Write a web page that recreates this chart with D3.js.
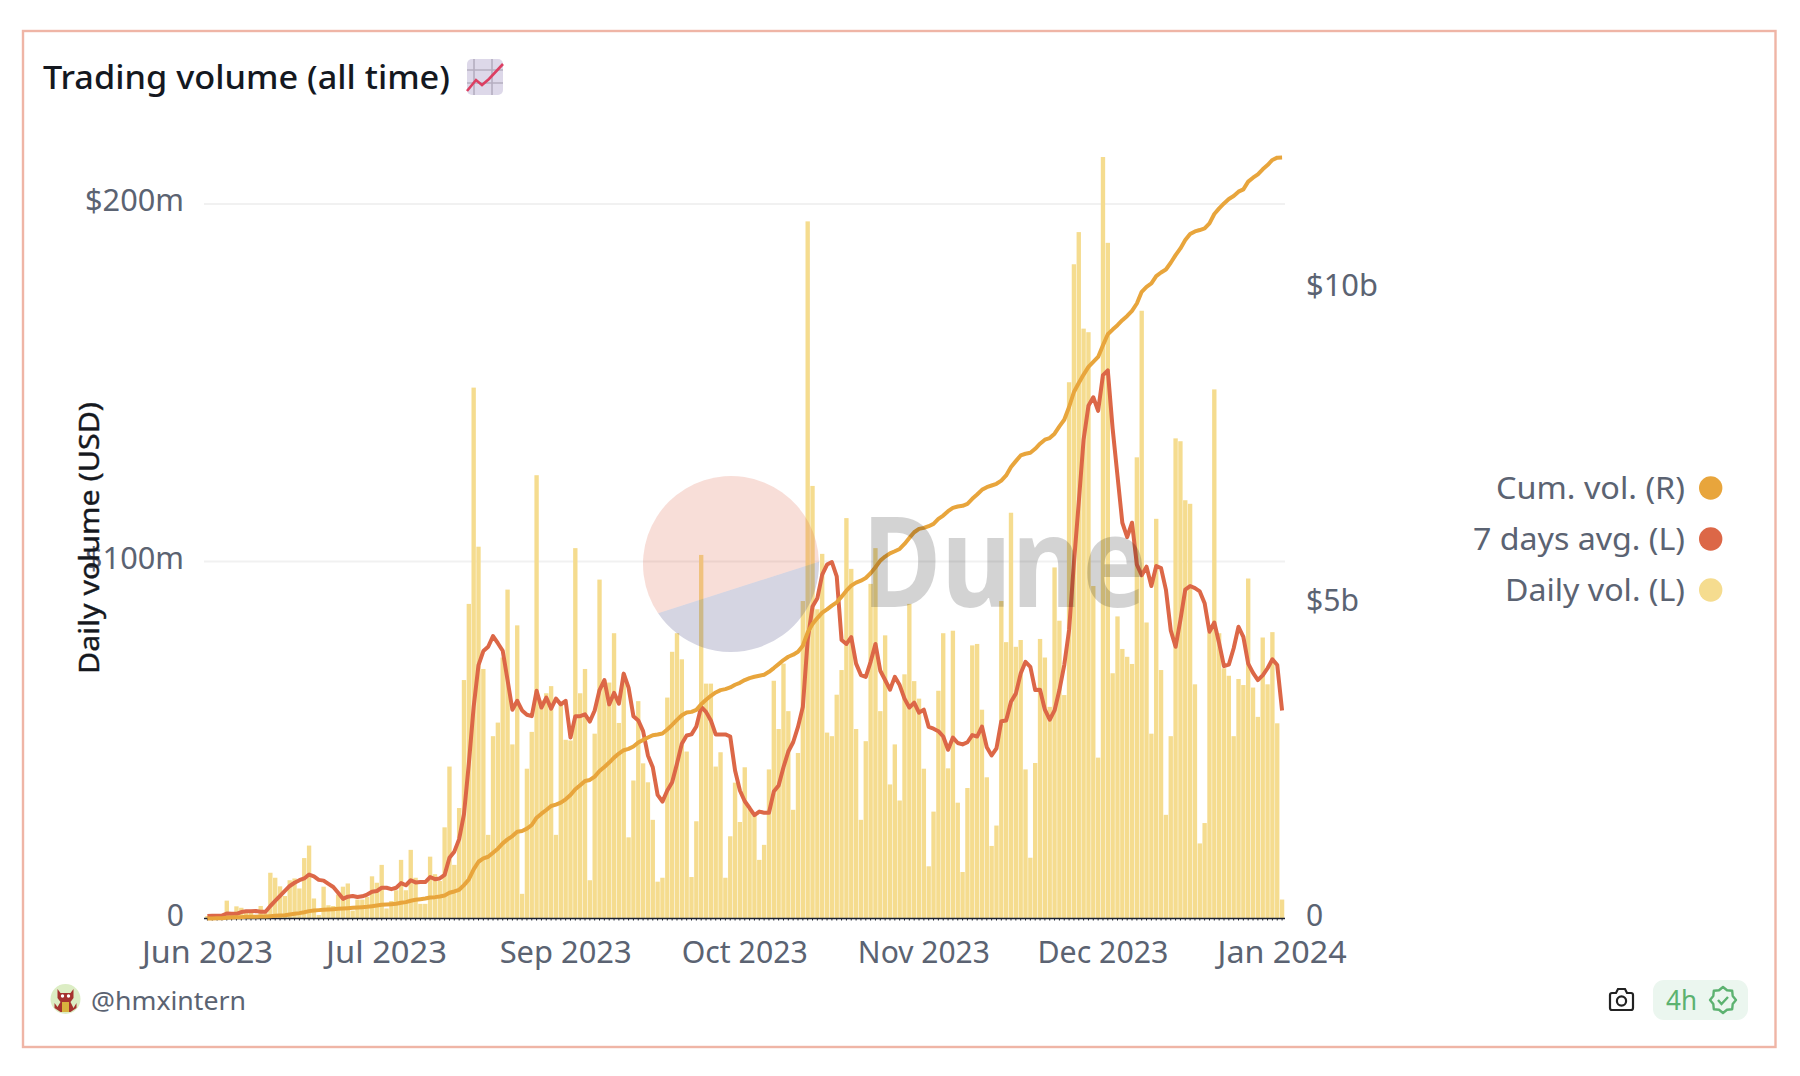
<!DOCTYPE html>
<html>
<head>
<meta charset="utf-8">
<script src="https://cdn.jsdelivr.net/npm/d3@7"></script>
<style>
html,body{margin:0;padding:0;background:#fff;}
svg{display:block;}
text{font-family:"Noto Sans",sans-serif;}
</style>
</head>
<body>
<svg id="chart" width="1800" height="1076"></svg>
<script>
const title = "Trading volume (all time)";
const yAxisTitle = "Daily volume (USD)";
const leftTicks = [0, 100, 200];
const rightTicks = [0, 5, 10];
const tickIndex = [0, 37, 74, 111, 148, 185, 222];
const tickLabels = ["Jun 2023", "Jul 2023", "Sep 2023", "Oct 2023", "Nov 2023", "Dec 2023", "Jan 2024"];
const legendNames = ["Cum. vol. (R)", "7 days avg. (L)", "Daily vol. (L)"];

// Daily volume, $m
const dailyVol = [
0.7,0.7,0.7,0.7,5,1.6,3.4,3,1.6,1.6,
1,3.5,1.6,12.8,11.4,9,6.3,10.7,11.2,8.4,
16.9,20.4,5.6,1,8.9,3.7,3.5,6.7,8.9,9.8,
2.2,5.3,5.3,6,11.8,10,15,2.8,4.9,7.9,
16.4,7.9,19.2,11.4,4.1,4.1,17.3,12.4,10.5,25.5,
42.5,15,30.9,66.7,88,148.5,104,69.8,23.4,51,
54.8,73,92,48.7,82,6.9,41.9,52.2,124,61,
63,65,23.4,60,50,49.8,103.6,63,69.8,10.7,
51.7,94.8,66.7,66,79.8,54.7,68.5,22.7,38.6,60.8,
43.4,38.1,27.6,10.3,11.4,61.8,74.6,79.8,72.5,46.7,
11.6,27.2,101.7,65.7,65.7,42.5,46.5,11.4,23,38,
27,42.3,30.6,28.7,16.4,20.6,41.7,66.5,53,71.3,
58,30.4,46.3,88.8,195,121,86.5,102,52,51,
62.6,69.5,112,97.8,53,27.6,49.6,93.6,103.6,58,
79.2,37.5,48.7,33,68.3,88,66.4,61.5,41.9,14.6,
29.9,63.7,79.8,42,80.5,32.4,13,36.5,76.4,76.8,
58.4,39.5,20.3,26,88.8,77.3,113.5,76,77.9,41.7,
17,43.5,78.2,73,59.2,98.2,83.3,62.5,150,183,
192,165,164,93,45,213,189,68.6,84.5,75.4,
73.2,71.2,129,170,82.8,51.7,111.8,69.5,29,51,
134.3,133.5,117,116,65.5,21,26.7,80,148,79.8,
70,67.9,51,67,65.3,95.1,64.6,56.4,78.6,65.5,
80.1,54.6,5.3];

// 7 days average, $m
const avg7 = [
0.7,0.8,0.8,0.8,1.4,1.3,1.3,1.8,2,2,
2.1,1.9,1.9,3.5,4.9,6.3,7.7,9.1,10,10.7,
11.2,12.3,11.8,10.8,10.6,9.7,8.8,7.2,5.5,6.1,
6.3,6,6.2,6.7,7.5,7.7,8.6,8.6,8.2,8.6,
9.9,9.3,10.7,10.1,10.2,10.2,11.6,11,11.2,12.2,
17,18.7,22.2,29.2,43.3,59.2,70.9,74.8,76,79,
77,74.9,66.7,58.4,60.9,58.2,57,56.6,63.7,59,
61.8,58.7,61.5,59.9,60.9,50.6,56.6,56.6,57.1,55.1,
58.2,63.9,66.7,59.9,63.1,60.1,68.5,64.6,56.6,55.4,
52.4,45.6,42.3,34.6,32.7,35.8,38.1,43.3,48.9,51.2,
51.5,53.7,59.2,57.8,55.4,51.5,51.5,51.5,50.9,41.4,
35.8,32.8,30.9,28.9,29.9,29.6,29.6,35.5,37.2,42.3,
46.7,49.3,53.6,59.2,77.9,87.3,89.6,96.2,99,99.7,
95.7,77.9,76.8,78.7,71.3,68.1,67.6,71.8,76.8,69.3,
66.7,64,67.6,65.3,61.5,59,60.4,57.6,58.4,53.6,
53.1,52.4,50.9,47.2,50.6,49.1,48.7,49.3,51.3,50.9,
53.7,47.9,45.6,47.6,55.2,55.4,60.6,62.9,68.5,71.8,
70.4,63.9,64,58.4,55.6,58.2,63.9,70.9,80.7,99.5,
116.4,134,143.4,145.8,142,152,153.3,137,123.8,110.7,
106.7,110.7,99,96,98.4,93,98.6,98,92,80.6,
76,83.5,92,93,92.4,91.5,88.2,80.2,82.8,77,
70.6,71,75.6,81.6,78.8,71.3,68.7,66.7,68,70,
72.5,70.9,58.2];

// Cumulative volume, $b
const cumVol = [
0,0,.005,.005,.01,.016,.02,.02,.026,.026,
.026,.03,.03,.037,.042,.048,.053,.064,.074,.085,
.1,.117,.127,.133,.138,.143,.148,.154,.159,.164,
.17,.175,.18,.186,.196,.207,.217,.223,.228,.233,
.249,.26,.281,.297,.307,.318,.334,.339,.35,.366,
.408,.429,.456,.53,.62,.779,.901,.954,.98,1.044,
1.108,1.192,1.256,1.309,1.378,1.388,1.426,1.484,1.6,1.664,
1.722,1.786,1.807,1.839,1.892,1.961,2.051,2.114,2.183,2.199,
2.252,2.342,2.406,2.475,2.554,2.618,2.671,2.692,2.729,2.793,
2.835,2.872,2.909,2.92,2.936,3,3.074,3.153,3.227,3.27,
3.28,3.312,3.402,3.471,3.535,3.588,3.625,3.641,3.667,3.71,
3.741,3.784,3.816,3.837,3.853,3.869,3.916,3.975,4.038,4.102,
4.155,4.187,4.234,4.33,4.542,4.674,4.769,4.854,4.907,4.966,
5.019,5.109,5.204,5.283,5.331,5.363,5.405,5.48,5.575,5.681,
5.745,5.797,5.829,5.866,5.946,6.041,6.131,6.184,6.2,6.227,
6.264,6.343,6.396,6.465,6.518,6.539,6.55,6.582,6.661,6.73,
6.804,6.847,6.873,6.9,6.95,7.032,7.165,7.26,7.35,7.377,
7.393,7.456,7.536,7.6,7.626,7.695,7.811,7.917,8.119,8.357,
8.5,8.633,8.755,8.834,8.914,9.099,9.274,9.348,9.417,9.497,
9.565,9.645,9.762,9.947,10.026,10.08,10.196,10.254,10.302,10.408,
10.53,10.636,10.768,10.864,10.906,10.928,10.954,11.033,11.182,11.272,
11.351,11.42,11.468,11.537,11.574,11.696,11.759,11.812,11.892,11.96,
12.04,12.077,12.08];

const COL = {cum:"#e8a53c", avg:"#dc6747", bar:"#f5dc8f", text:"#5b6372", grid:"#f1f1f1", axis:"#1c2230", frame:"#efb5a6"};
const index = d3.range(dailyVol.length);
const svg = d3.select("#chart");

const x = d3.scaleBand().domain(index).range([205, 1284.5]).paddingInner(0.1).paddingOuter(0.05);
const yL = d3.scaleLinear().domain([0, 200]).range([918.5, 203.5]);
const yR = d3.scaleLinear().domain([0, 10]).range([918.5, 288.5]);
const cx = i => x(i) + x.bandwidth() / 2;

// frame
svg.append("rect").attr("x",23).attr("y",31).attr("width",1752.5).attr("height",1016)
   .attr("fill","#fff").attr("stroke",COL.frame).attr("stroke-width",2.4);

// title
svg.append("text").text(title).attr("x",43).attr("y",89).attr("font-size",33).attr("font-weight",500)
   .attr("fill","#14181f").attr("textLength",407).attr("lengthAdjust","spacingAndGlyphs");

// chart emoji
const em = svg.append("g").attr("transform","translate(467,59)");
em.append("rect").attr("width",36).attr("height",36).attr("rx",5).attr("fill","#ddd8e9");
em.append("path").attr("d","M0 11H36M0 24H36M7 0V36M25 0V36").attr("stroke","#b5aec0").attr("stroke-width",1.6).attr("fill","none");
em.append("path").attr("d","M0 32L9 21L15 26L22 20L36 5").attr("stroke","#dc3f62").attr("stroke-width",2.6).attr("fill","none");

// gridlines
svg.append("g").attr("transform","translate(204,0)")
   .call(d3.axisLeft(yL).tickValues([100,200]).tickSize(-1081).tickFormat(""))
   .call(g=>g.select(".domain").remove())
   .call(g=>g.selectAll("text").remove())
   .call(g=>g.selectAll("line").attr("stroke",COL.grid).attr("stroke-width",2));

// bars
svg.append("g").selectAll("rect").data(index).join("rect")
   .attr("x",i=>x(i)).attr("width",x.bandwidth())
   .attr("y",i=>yL(dailyVol[i])).attr("height",i=>yL(0)-yL(dailyVol[i]))
   .attr("fill",COL.bar);

// bottom axis
const tickLen = [131,121,132,126,132,131,129];
const xAxis = d3.axisBottom(x).tickValues(index).tickSize(2).tickPadding(0)
   .tickFormat(i=>{const k=tickIndex.indexOf(i);return k<0?"":tickLabels[k];});
const gx = svg.append("g").attr("transform",`translate(0,${yL(0)})`).call(xAxis);
gx.select(".domain").remove();
gx.selectAll("line").attr("stroke",COL.axis).attr("stroke-width",1);
gx.selectAll("text").filter(i=>!tickIndex.includes(i)).remove();
gx.selectAll("text").attr("font-family",'"Noto Sans",sans-serif').attr("font-size",30).attr("fill",COL.text)
   .attr("dy",null).attr("y",44).attr("text-anchor","middle")
   .attr("textLength",i=>tickLen[tickIndex.indexOf(i)]).attr("lengthAdjust","spacingAndGlyphs");
svg.append("line").attr("x1",204).attr("x2",1285).attr("y1",yL(0)).attr("y2",yL(0)).attr("stroke",COL.axis).attr("stroke-width",1.6);

// left axis labels
const gl = svg.append("g").attr("transform","translate(184,0)")
   .call(d3.axisLeft(yL).tickValues(leftTicks).tickSize(0).tickPadding(0).tickFormat(v=>v===0?"0":`$${v}m`));
gl.select(".domain").remove();
gl.selectAll("text").attr("font-family",'"Noto Sans",sans-serif').attr("font-size",30).attr("fill",COL.text).attr("dy",7)
   .attr("textLength",v=>v===0?null:99).attr("lengthAdjust","spacingAndGlyphs");

// right axis labels
const gr = svg.append("g").attr("transform","translate(1306,0)")
   .call(d3.axisRight(yR).tickValues(rightTicks).tickSize(0).tickPadding(0).tickFormat(v=>v===0?"0":`$${v}b`));
gr.select(".domain").remove();
gr.selectAll("text").attr("font-family",'"Noto Sans",sans-serif').attr("font-size",30).attr("fill",COL.text).attr("dy",7)
   .attr("textLength",v=>v===0?null:(v===10?72:53)).attr("lengthAdjust","spacingAndGlyphs");

// y axis title
svg.append("text").text(yAxisTitle).attr("transform","translate(99,538) rotate(-90)")
   .attr("text-anchor","middle").attr("font-family","DejaVu Sans").attr("font-size",28).attr("fill","#15181e")
   .attr("stroke","#15181e").attr("stroke-width",0.4)
   .attr("textLength",272).attr("lengthAdjust","spacingAndGlyphs");

// lines
const lineAvg = d3.line().x(i=>cx(i)).y(i=>yL(avg7[i]));
const lineCum = d3.line().x(i=>cx(i)).y(i=>yR(cumVol[i]));
svg.append("path").attr("d",lineAvg(index)).attr("fill","none").attr("stroke",COL.avg).attr("stroke-width",4).attr("stroke-linejoin","round");
svg.append("path").attr("d",lineCum(index)).attr("fill","none").attr("stroke",COL.cum).attr("stroke-width",4).attr("stroke-linejoin","round");

// Dune watermark
const wm = svg.append("g");
const wmx=731, wmy=564, wmr=88;
const ang1=Math.atan2(612.7-wmy,659-wmx), ang2=Math.atan2(561.7-wmy,819-wmx);
const pt=a=>[wmx+wmr*Math.cos(a),wmy+wmr*Math.sin(a)];
const [ax,ay]=pt(ang1),[bx,by]=pt(ang2);
wm.append("path").attr("d",`M${ax} ${ay}A${wmr} ${wmr} 0 1 1 ${bx} ${by}Z`).attr("fill","#de5a3c").attr("opacity",0.2);
wm.append("path").attr("d",`M${ax} ${ay}A${wmr} ${wmr} 0 0 0 ${bx} ${by}Z`).attr("fill","#2c2c70").attr("opacity",0.2);
wm.append("text").text("Dune").attr("x",862).attr("y",607).attr("font-family","Roboto").attr("font-weight",700)
  .attr("font-size",125).attr("fill","#000").attr("opacity",0.17).attr("textLength",285).attr("lengthAdjust","spacingAndGlyphs");

// legend
const legendColors=[COL.cum,COL.avg,COL.bar];
const legendLen=[189,212,180];
const legendY=[488,539,590];
legendNames.forEach((n,k)=>{
  svg.append("circle").attr("cx",1710.7).attr("cy",legendY[k]).attr("r",11.7).attr("fill",legendColors[k]);
  svg.append("text").text(n).attr("x",1685).attr("y",legendY[k]+11).attr("text-anchor","end")
     .attr("font-size",30).attr("fill",COL.text).attr("textLength",legendLen[k]).attr("lengthAdjust","spacingAndGlyphs");
});

// author
const av=svg.append("g").attr("transform","translate(65.5,999)");
av.append("circle").attr("r",15).attr("fill","#dcedc4");
av.append("path").attr("d","M-8 -10L-5 -6H5L8 -10L8 -1L5 3L8 9L11 4L11 9L5 13H-5L-11 9L-11 4L-8 8L-5 3L-8 -1Z").attr("fill","#a5322e");
av.append("rect").attr("x",-3.5).attr("y",3).attr("width",7).attr("height",10).attr("fill","#d8b23e");
av.append("circle").attr("cx",-3).attr("cy",-3).attr("r",1.7).attr("fill","#fff");
av.append("circle").attr("cx",3).attr("cy",-3).attr("r",1.7).attr("fill","#fff");
svg.append("text").text("@hmxintern").attr("x",91).attr("y",1010).attr("font-size",26).attr("fill",COL.text)
   .attr("textLength",155).attr("lengthAdjust","spacingAndGlyphs");

// camera icon
const cam=svg.append("g").attr("transform","translate(1609,988)").attr("fill","none").attr("stroke","#222").attr("stroke-width",2.2);
cam.append("path").attr("d","M3 5H7L9 1H16L18 5H22Q24 5 24 7V20Q24 22 22 22H3Q1 22 1 20V7Q1 5 3 5Z");
cam.append("circle").attr("cx",12.5).attr("cy",13).attr("r",4.6);

// refresh badge
svg.append("rect").attr("x",1653).attr("y",980).attr("width",95).attr("height",40).attr("rx",11).attr("fill","#ebf6ef");
svg.append("text").text("4h").attr("x",1666).attr("y",1010).attr("font-size",28).attr("fill","#5cb270")
   .attr("textLength",31).attr("lengthAdjust","spacingAndGlyphs");
const bd=svg.append("g").attr("transform","translate(1723,1000)").attr("fill","none").attr("stroke","#5cb270").attr("stroke-width",2.4);
bd.append("path").attr("d",d3.range(16).map(k=>{const a=k*Math.PI/8,r=k%2?10.5:13;return (k?"L":"M")+(r*Math.cos(a)).toFixed(1)+" "+(r*Math.sin(a)).toFixed(1);}).join("")+"Z").attr("stroke-linejoin","round");
bd.append("path").attr("d","M-5 0L-1.5 4L5 -3");
</script>
</body>
</html>
